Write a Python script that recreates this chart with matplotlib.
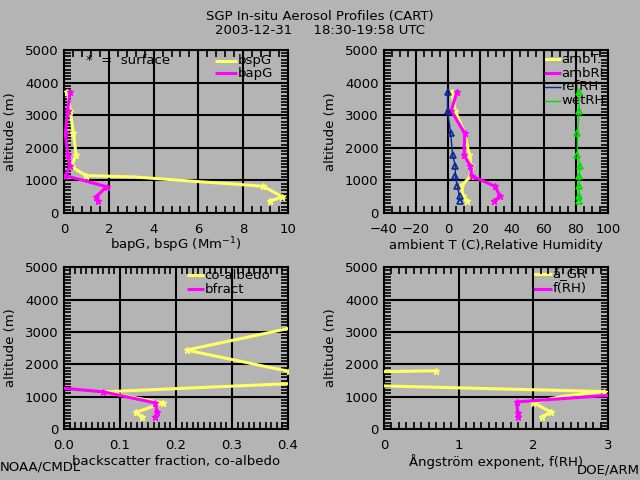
import matplotlib
matplotlib.use('Agg')
import matplotlib.pyplot as plt
import numpy as np
from matplotlib.ticker import MultipleLocator

nan = np.nan

# colours
BG = '#b4b4b4'
YEL = '#ffff66'
MAG = '#ff00ff'
BLU = '#0a2896'
GRN = '#00e000'

# panel 1: scattering / absorption
alt_bsp = [3720, 3140, 2440, 1780, 1440, 1320, 1150, 1110, 960, 890, 820, 500, 370]
bspG = [0.15, 0.28, 0.42, 0.54, 0.34, 0.57, 1.0, 3.1, 6.1, 7.6, 8.9, 9.75, 9.2]
bsp_marks = [0, 1, 2, 3, 4, 6, 10, 11, 12]
alt_bap = [3720, 3140, 2440, 1780, 1440, 1150, 810, 500, 380]
bapG = [0.27, 0.16, 0.06, 0.17, 0.27, 0.06, 1.9, 1.43, 1.52]

# panel 2: temperature and RH
alt_met = [3720, 3140, 2440, 1780, 1440, 1140, 820, 510, 380]
ambT = [2.3, 4.5, 10.5, 13.3, 14.5, 14.2, 8.2, 9.5, 11.7]
ambRH = [5.6, 2.0, 10.5, 10.0, 14.0, 14.8, 29.5, 32.5, 29.0]
refRH = [-0.3, -0.3, 1.7, 2.9, 4.6, 4.6, 5.8, 7.2, 7.5]
wetRH = [81.7, 82.0, 80.9, 80.9, 82.5, 82.0, 82.0, 82.0, 82.0]

# panel 3: co-albedo and backscatter fraction
alt_opt = [3720, 3140, 2440, 1780, 1440, 1150, 810, 515, 380]
co_albedo = [0.7, 0.41, 0.219, 0.402, 0.45, 0.07, 0.177, 0.128, 0.139]
bfract = [nan, nan, nan, nan, -0.115, 0.07, 0.163, 0.166, 0.163]

# panel 4: angstrom exponent and f(RH)
alt_ang = [1800, 1700, 1450, 1160, 1000, 820, 520, 380]
a_GR = [0.69, -2.0, -2.0, 2.94, 2.36, 2.0, 2.24, 2.11]
ang_marks = [0, 3, 5, 6, 7]
alt_frh = [1140, 840, 500, 380]
fRH = [3.6, 1.78, 1.79, 1.8]

plt.rcParams['font.family'] = 'DejaVu Sans'
plt.rcParams['font.size'] = 9.5

fig = plt.figure(figsize=(6.4, 4.8), dpi=100, facecolor=BG)


def setup(ax, xlim, xmaj, xmin, xlabel):
    ax.set_facecolor(BG)
    ax.set_xlim(xlim)
    ax.set_ylim(0, 5000)
    ax.xaxis.set_major_locator(MultipleLocator(xmaj))
    ax.xaxis.set_minor_locator(MultipleLocator(xmin))
    ax.yaxis.set_major_locator(MultipleLocator(1000))
    ax.yaxis.set_minor_locator(MultipleLocator(100))
    ax.grid(True, which='major', color='black', lw=1.5)
    ax.tick_params(which='both', direction='in', top=True, right=True,
                   colors='black', labelsize=9.5)
    ax.tick_params(which='major', length=0, pad=7)
    ax.tick_params(axis='y', which='major', pad=4)
    ax.tick_params(which='minor', length=5, width=1.2)
    for s in ax.spines.values():
        s.set_linewidth(1.5)
    ax.set_axisbelow(False)
    ax.set_xlabel(xlabel)
    ax.xaxis.label.set_va('center')
    ax.xaxis.set_label_coords(0.5, -0.197)
    ax.set_ylabel('altitude (m)')
    ax.yaxis.label.set_va('center')
    ax.yaxis.set_label_coords(-0.24, 0.5)


def legend(ax, x0, x1, y0, dy, entries):
    for i, (lab, col, lw) in enumerate(entries):
        y = y0 - i * dy
        ax.plot([x0, x1], [y, y], color=col, lw=lw, transform=ax.transAxes,
                clip_on=False, solid_capstyle='butt')
        ax.text(x1 + 0.003, y, lab, transform=ax.transAxes, va='center',
                ha='left')


ax1 = fig.add_axes([0.1, 0.556, 0.35, 0.34])
ax2 = fig.add_axes([0.6, 0.556, 0.35, 0.34])
ax3 = fig.add_axes([0.1, 0.106, 0.35, 0.3375])
ax4 = fig.add_axes([0.6, 0.106, 0.35, 0.3375])

setup(ax1, (0, 10), 2, 0.4, 'bapG, bspG (Mm$^{-1}$)')
setup(ax2, (-40, 100), 20, 5, 'ambient T (C),Relative Humidity')
setup(ax3, (0, 0.4), 0.1, 0.01, 'backscatter fraction, co-albedo')
setup(ax4, (0, 3), 1, 0.1, 'Ångström exponent, f(RH)')
ax3.xaxis.set_major_formatter(matplotlib.ticker.FormatStrFormatter('%.1f'))

# panel 1
ax1.plot(bspG, alt_bsp, color=YEL, lw=2.2, marker='*', ms=5,
         markevery=bsp_marks, zorder=3)
ax1.plot(bapG, alt_bap, color=MAG, lw=2.2, marker='*', ms=5, zorder=4)
ax1.text(0.098, 0.934, '*  =  surface', transform=ax1.transAxes, va='center')
legend(ax1, 0.674, 0.772, 0.934, 0.078, [('bspG', YEL, 2.2), ('bapG', MAG, 2.2)])

# panel 2
ax2.plot(ambT, alt_met, color=YEL, lw=2.2, marker='*', ms=5, zorder=3)
ax2.plot(ambRH, alt_met, color=MAG, lw=2.2, marker='*', ms=5, zorder=4)
ax2.plot(refRH, alt_met, color=BLU, lw=1, marker='^', ms=4, mfc='none',
         mew=1.2, zorder=5)
ax2.plot(wetRH, alt_met, color=GRN, lw=1, marker='^', ms=4, mfc='none',
         mew=1.2, zorder=5)
legend(ax2, 0.714, 0.79, 0.943, 0.085, [('ambT.', YEL, 2.2), ('ambRH', MAG, 2.2),
                                        ('refRH', BLU, 1), ('wetRH', GRN, 1)])

# panel 3
ax3.plot(co_albedo, alt_opt, color=YEL, lw=2.2, marker='*', ms=5, zorder=3)
ax3.plot(bfract, alt_opt, color=MAG, lw=2.2, marker='*', ms=5, zorder=4)
legend(ax3, 0.548, 0.625, 0.951, 0.087, [('co-albedo', YEL, 2.2), ('bfract', MAG, 2.2)])

# panel 4
ax4.plot(a_GR, alt_ang, color=YEL, lw=2.2, marker='*', ms=5,
         markevery=ang_marks, zorder=3)
ax4.plot(fRH, alt_frh, color=MAG, lw=2.2, marker='*', ms=5, zorder=4)
legend(ax4, 0.665, 0.75, 0.955, 0.087, [('å_GR', YEL, 2.2), ('f(RH)', MAG, 2.2)])

fig.text(0.5, 0.965, 'SGP In-situ Aerosol Profiles (CART)', ha='center', va='center')
fig.text(0.5, 0.9375, '2003-12-31     18:30-19:58 UTC', ha='center', va='center')
fig.text(0.0, 0.027, 'NOAA/CMDL', ha='left', va='center')
fig.text(1.0, 0.021, 'DOE/ARM', ha='right', va='center')

fig.savefig('out.png', dpi=100, facecolor=BG)
